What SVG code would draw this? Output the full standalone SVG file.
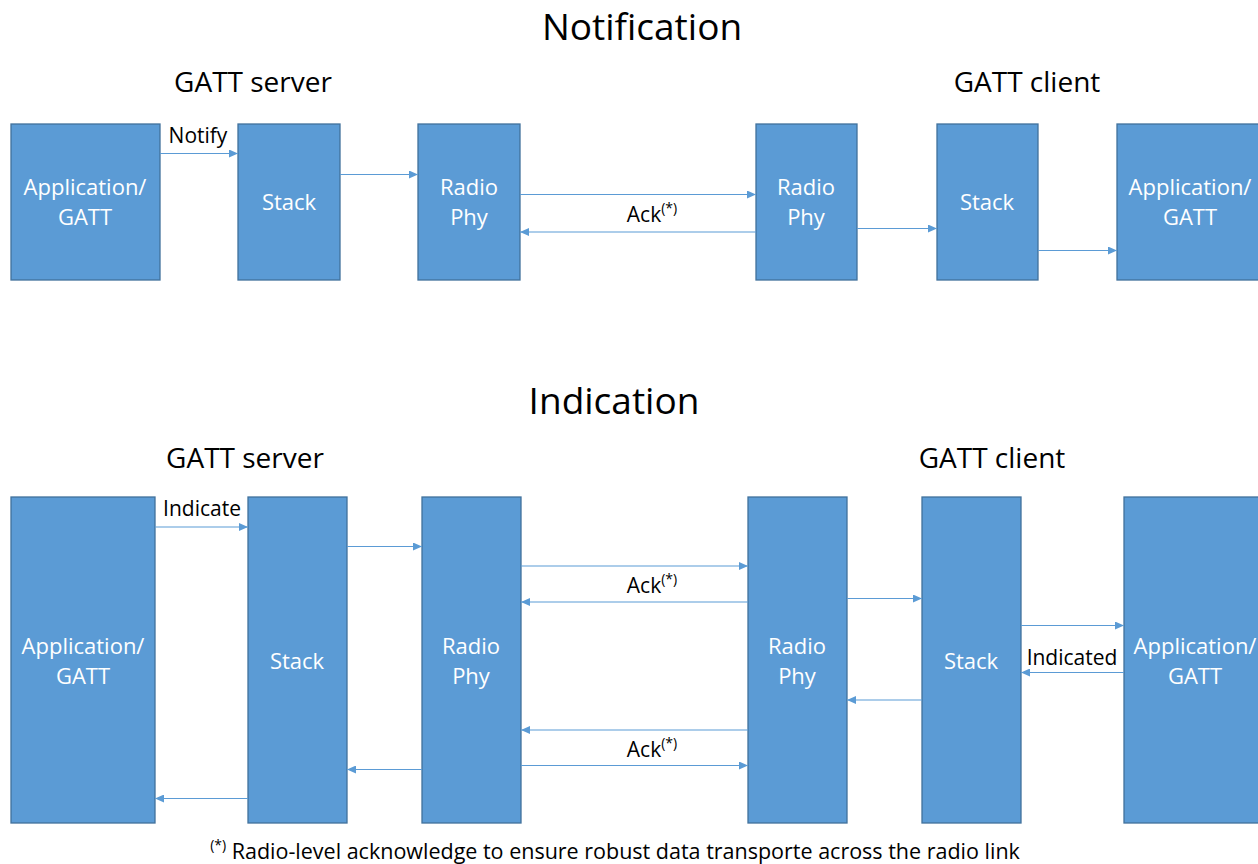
<svg xmlns="http://www.w3.org/2000/svg" width="1258" height="864" viewBox="0 0 1258 864">
<defs>
<marker id="ah" markerWidth="9" markerHeight="8" refX="9" refY="4" orient="auto" markerUnits="userSpaceOnUse">
<path d="M0,0 L9,4 L0,8 z" fill="#5B9BD5"/>
</marker>
<style>
.box{fill:#5B9BD5;stroke:#41719C;stroke-width:1.3}
.bt{font-family:"Open Sans","Liberation Sans",sans-serif;font-size:22px;fill:#fff;text-anchor:middle}
.lbl{font-family:"Open Sans","Liberation Sans",sans-serif;font-size:21px;fill:#000;text-anchor:middle}
.sup{font-size:14px}
.title{font-family:"Open Sans","Liberation Sans",sans-serif;font-size:37px;fill:#000;text-anchor:middle}
.sub{font-family:"Open Sans","Liberation Sans",sans-serif;font-size:28px;fill:#000;text-anchor:middle}
.ar{stroke:#5B9BD5;stroke-width:1.2;fill:none;marker-end:url(#ah)}
</style>
</defs>
<rect width="1258" height="864" fill="#fff"/>

<text class="title" x="642" y="40">Notification</text>
<text class="sub" x="253" y="92">GATT server</text>
<text class="sub" x="1027" y="92">GATT client</text>

<g id="n-app1"><rect class="box" x="11" y="124" width="149" height="156"/><text class="bt" x="85" y="195">Application/</text><text class="bt" x="85" y="225">GATT</text></g>
<g id="n-stack1"><rect class="box" x="238" y="124" width="102" height="156"/><text class="bt" x="289" y="210">Stack</text></g>
<g id="n-radio1"><rect class="box" x="418" y="124" width="102" height="156"/><text class="bt" x="469" y="195">Radio</text><text class="bt" x="469" y="225">Phy</text></g>
<g id="n-radio2"><rect class="box" x="756" y="124" width="101" height="156"/><text class="bt" x="806" y="195">Radio</text><text class="bt" x="806" y="225">Phy</text></g>
<g id="n-stack2"><rect class="box" x="937" y="124" width="101" height="156"/><text class="bt" x="987" y="210">Stack</text></g>
<g id="n-app2"><rect class="box" x="1117" y="124" width="150" height="156"/><text class="bt" x="1190" y="195">Application/</text><text class="bt" x="1190" y="225">GATT</text></g>

<text class="title" x="614" y="414">Indication</text>
<text class="sub" x="245" y="468">GATT server</text>
<text class="sub" x="992" y="468">GATT client</text>

<g id="i-app1"><rect class="box" x="11" y="497" width="144" height="326"/><text class="bt" x="83" y="654">Application/</text><text class="bt" x="83" y="684">GATT</text></g>
<g id="i-stack1"><rect class="box" x="248" y="497" width="99" height="326"/><text class="bt" x="297" y="669">Stack</text></g>
<g id="i-radio1"><rect class="box" x="422" y="497" width="99" height="326"/><text class="bt" x="471" y="654">Radio</text><text class="bt" x="471" y="684">Phy</text></g>
<g id="i-radio2"><rect class="box" x="748" y="497" width="99" height="326"/><text class="bt" x="797" y="654">Radio</text><text class="bt" x="797" y="684">Phy</text></g>
<g id="i-stack2"><rect class="box" x="922" y="497" width="99" height="326"/><text class="bt" x="971" y="669">Stack</text></g>
<g id="i-app2"><rect class="box" x="1124" y="497" width="150" height="326"/><text class="bt" x="1195" y="654">Application/</text><text class="bt" x="1195" y="684">GATT</text></g>

<g id="connectors">
<line class="ar" x1="160" y1="153.5" x2="238" y2="153.5"/>
<line class="ar" x1="340" y1="174.5" x2="418" y2="174.5"/>
<line class="ar" x1="520" y1="194.5" x2="756" y2="194.5"/>
<line class="ar" x1="756" y1="232" x2="520" y2="232"/>
<line class="ar" x1="857" y1="228.5" x2="937" y2="228.5"/>
<line class="ar" x1="1038" y1="250.5" x2="1117" y2="250.5"/>

<line class="ar" x1="155" y1="527" x2="248" y2="527"/>
<line class="ar" x1="347" y1="546.5" x2="422" y2="546.5"/>
<line class="ar" x1="521" y1="566" x2="748" y2="566"/>
<line class="ar" x1="748" y1="602" x2="521" y2="602"/>
<line class="ar" x1="847" y1="598.5" x2="922" y2="598.5"/>
<line class="ar" x1="1021" y1="625.5" x2="1124" y2="625.5"/>
<line class="ar" x1="1124" y1="672.5" x2="1021" y2="672.5"/>
<line class="ar" x1="922" y1="700" x2="847" y2="700"/>
<line class="ar" x1="748" y1="730" x2="521" y2="730"/>
<line class="ar" x1="521" y1="765.5" x2="748" y2="765.5"/>
<line class="ar" x1="422" y1="769.5" x2="347" y2="769.5"/>
<line class="ar" x1="248" y1="798.5" x2="155" y2="798.5"/>
</g>

<g id="labels">
<text class="lbl" x="198" y="143">Notify</text>
<text class="lbl" x="652" y="222">Ack<tspan class="sup" dy="-9">(*)</tspan></text>
<text class="lbl" x="202" y="516">Indicate</text>
<text class="lbl" x="652" y="593">Ack<tspan class="sup" dy="-9">(*)</tspan></text>
<text class="lbl" x="1072" y="665">Indicated</text>
<text class="lbl" x="652" y="757">Ack<tspan class="sup" dy="-9">(*)</tspan></text>
<text class="lbl" x="615" y="859" style="font-size:21.5px"><tspan class="sup" dy="-9">(*)</tspan><tspan dy="9"> Radio-level acknowledge to ensure robust data transporte across the radio link</tspan></text>
</g>
</svg>
